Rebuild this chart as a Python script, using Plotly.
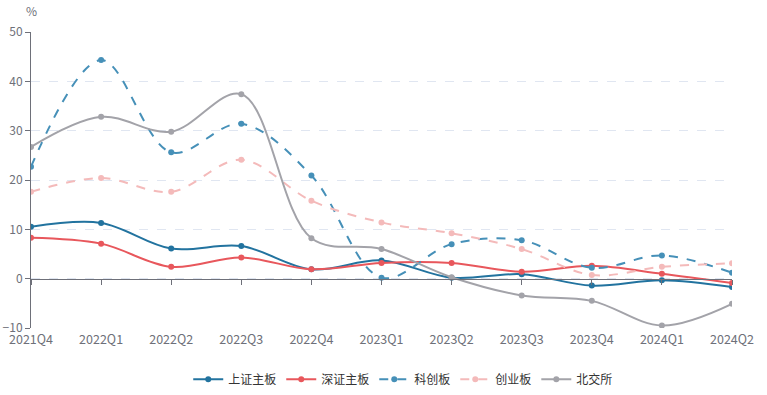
import plotly.graph_objects as go

quarters = ["2021Q4", "2022Q1", "2022Q2", "2022Q3", "2022Q4", "2023Q1",
            "2023Q2", "2023Q3", "2023Q4", "2024Q1", "2024Q2"]
sh_main = [10.5, 11.3, 6.1, 6.6, 1.9, 3.7, 0.2, 0.9, -1.4, -0.3, -1.7]
sz_main = [8.3, 7.1, 2.4, 4.3, 1.9, 3.2, 3.2, 1.4, 2.6, 1.0, -0.9]
star = [22.7, 44.3, 25.6, 31.4, 20.9, 0.2, 7.0, 7.8, 2.2, 4.7, 1.2]
chinext = [17.6, 20.4, 17.6, 24.1, 15.8, 11.4, 9.2, 6.0, 0.75, 2.4, 3.1]
bse = [26.7, 32.8, 29.8, 37.4, 8.2, 6.0, 0.3, -3.4, -4.5, -9.5, -5.1]

series = [
    ("上证主板", sh_main, "#22739f", "solid"),
    ("深证主板", sz_main, "#e8575c", "solid"),
    ("科创板", star, "#4690b8", "dash"),
    ("创业板", chinext, "#f4baba", "dash"),
    ("北交所", bse, "#a3a3a9", "solid"),
]

FONT = "Noto Sans CJK SC, sans-serif"
fig = go.Figure()
for name, vals, color, dash in series:
    fig.add_trace(go.Scatter(
        x=quarters, y=vals, name=name, mode="lines+markers",
        line=dict(color=color, width=2, dash=dash, shape="spline", smoothing=1.0),
        marker=dict(color=color, size=6),
    ))
# invisible trace on label axis
fig.add_trace(go.Scatter(x=quarters, y=[0]*len(quarters), xaxis="x2", mode="lines",
                         line=dict(width=0), showlegend=False, hoverinfo="skip"))

fig.update_layout(
    width=767, height=395,
    margin=dict(l=31, r=35, t=32, b=67),
    plot_bgcolor="white", paper_bgcolor="white",
    font=dict(family=FONT, size=12, color="#6e7079"),
    xaxis=dict(
        type="category", range=[0, 10], showgrid=False, zeroline=False,
        showline=True, linecolor="#6e7079", linewidth=1,
        ticks="outside", ticklen=5, tickcolor="#6e7079",
        showticklabels=False, anchor="free", position=1/6, automargin=False,
    ),
    xaxis2=dict(
        type="category", range=[0, 10], overlaying="x", side="bottom",
        anchor="y", showgrid=False, zeroline=False, showline=False,
        ticks="", ticklabelstandoff=2,
        tickfont=dict(size=12.5, color="#6e7079"), automargin=False,
    ),
    yaxis=dict(
        range=[-10, 50], dtick=10, showgrid=True, gridcolor="#e0e6f1",
        griddash="dash", zeroline=False, showline=True, linecolor="#6e7079",
        ticks="outside", ticklen=5, tickcolor="#6e7079",
        tickfont=dict(size=12, color="#6e7079"), automargin=False,
    ),
    legend=dict(orientation="h", x=0.531, xanchor="center",
                yref="container", y=0.04, yanchor="middle",
                font=dict(size=12, color="#333"), itemwidth=30),
    annotations=[dict(text="%", x=0, xref="paper", y=1, yref="paper",
                      yshift=22, xanchor="center", yanchor="middle",
                      showarrow=False, font=dict(size=12, color="#6e7079"))],
    showlegend=True,
)
fig.write_html("out.html", config={"displayModeBar": False},
               post_script="document.body.style.margin='0';")
